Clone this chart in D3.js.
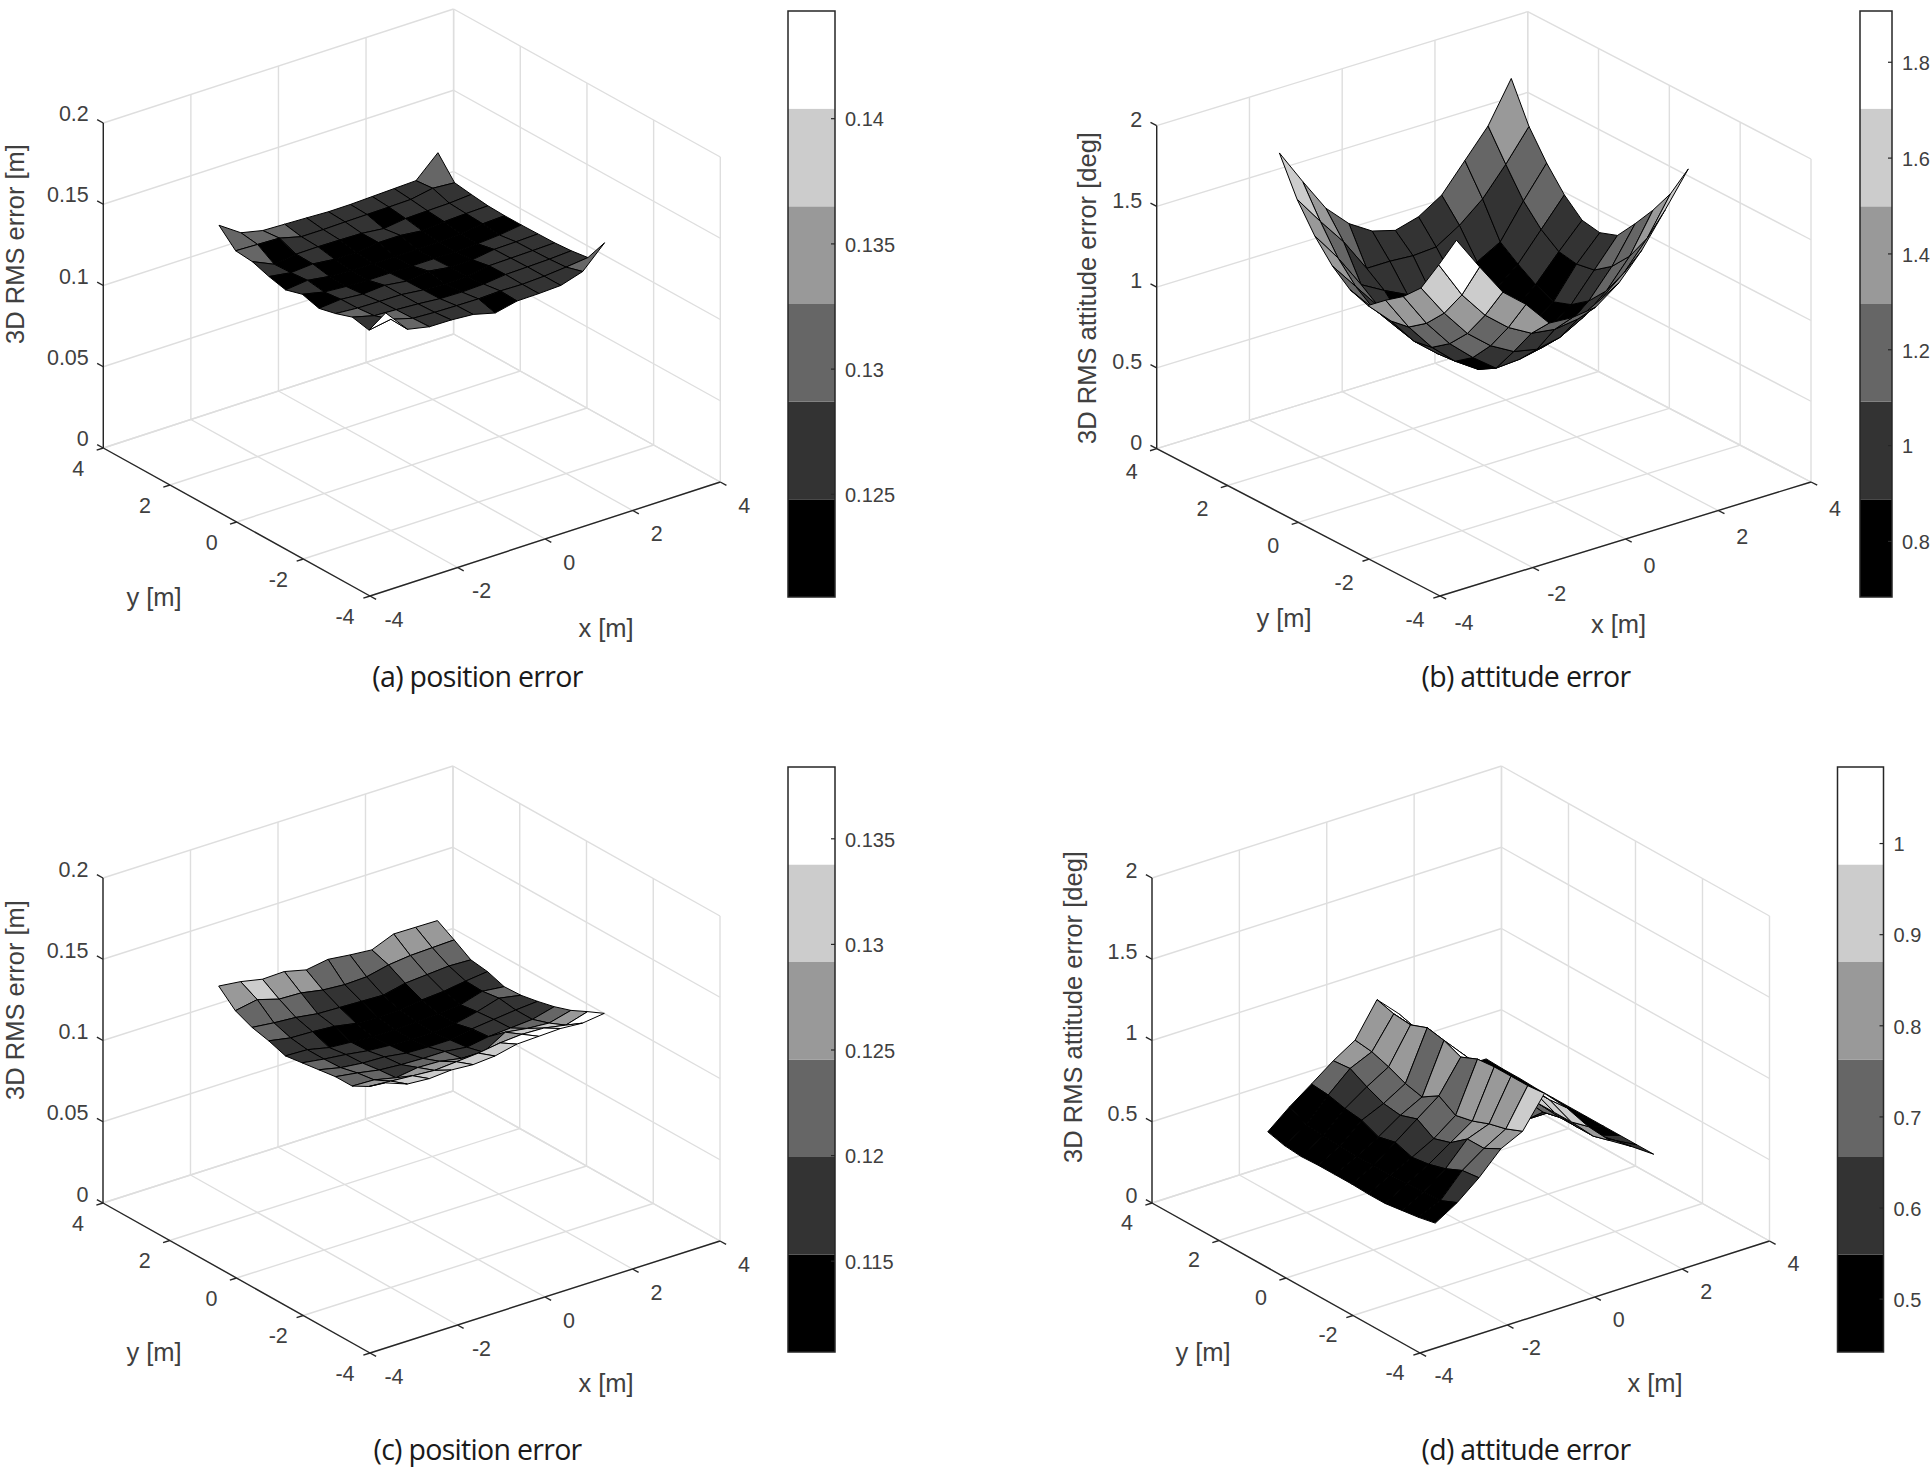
<!DOCTYPE html>
<html lang="en">
<head>
<meta charset="UTF-8">
<title>RMS error surfaces</title>
<script src="https://d3js.org/d3.v7.min.js"></script>
<style>
    html, body { margin: 0; padding: 0; background: #fff; }
    svg { display: block; }
    text { font-family: "Liberation Sans", Arial, sans-serif; fill: #404040; }
    .caption { font-family: "Open Sans", sans-serif; fill: #1a1a1a; font-size: 28.5px; text-anchor: middle; }
</style>
</head>
<body>
<svg id="fig" width="1930" height="1478"></svg>
<script>
// grid of the surfaces, both directions
const gridX = [-2.5, -2, -1.5, -1, -0.5, 0, 0.5, 1, 1.5, 2, 2.5]
const gridY = [-2.5, -2, -1.5, -1, -0.5, 0, 0.5, 1, 1.5, 2, 2.5]

const floorTicks = [-4, -2, 0, 2, 4]
const posZTicks = [0, 0.05, 0.1, 0.15, 0.2]
const attZTicks = [0, 0.5, 1, 1.5, 2]

// rows go with gridY, columns with gridX
const zA = [
    [.1440, .1295, .1267, .1265, .1255, .1220, .1250, .1252, .1258, .1300, .1433],
    [.1277, .1300, .1262, .1255, .1252, .1250, .1255, .1252, .1258, .1270, .1285],
    [.1300, .1265, .1258, .1250, .1238, .1235, .1240, .1255, .1258, .1262, .1270],
    [.1265, .1255, .1252, .1250, .1235, .1230, .1228, .1252, .1255, .1258, .1262],
    [.1240, .1252, .1240, .1250, .1232, .1250, .1230, .1232, .1252, .1255, .1260],
    [.1270, .1240, .1230, .1225, .1225, .1225, .1225, .1225, .1230, .1240, .1258],
    [.1240, .1255, .1235, .1228, .1225, .1225, .1225, .1228, .1235, .1252, .1258],
    [.1265, .1245, .1255, .1240, .1238, .1255, .1255, .1240, .1252, .1258, .1262],
    [.1300, .1240, .1258, .1260, .1258, .1255, .1240, .1258, .1262, .1265, .1275],
    [.1310, .1305, .1300, .1265, .1265, .1268, .1270, .1272, .1275, .1300, .1290],
    [.1410, .1320, .1290, .1285, .1280, .1274, .1275, .1280, .1285, .1290, .1418]
]
const zB = [
    [1.90, 1.69, 1.49, 1.37, 1.21, 1.20, 1.22, 1.325, 1.486, 1.69, 1.90],
    [1.69, 1.46, 1.29, 1.17, 1.09, 1.07, 1.09, 1.17, 1.29, 1.46, 1.69],
    [1.49, 1.29, 1.12, 1.00, 0.92, 0.89, 0.92, 1.00, 1.12, 1.29, 1.53],
    [1.38, 1.17, 1.00, 0.87, 0.76, 0.77, 0.80, 0.88, 1.00, 1.17, 1.39],
    [1.30, 1.09, 0.92, 0.79, 0.695, 0.70, 0.72, 0.81, 0.92, 1.09, 1.26],
    [1.21, 1.07, 0.90, 0.78, 0.70, 0.69, 0.71, 0.78, 0.88, 1.07, 1.22],
    [1.25, 1.09, 0.93, 0.81, 0.73, 0.71, 0.73, 0.81, 0.93, 1.09, 1.24],
    [1.34, 1.17, 1.00, 0.88, 0.81, 0.78, 0.81, 0.88, 1.00, 1.17, 1.34],
    [1.47, 1.29, 1.08, 1.00, 0.93, 0.90, 0.93, 1.00, 1.08, 1.29, 1.48],
    [1.64, 1.46, 1.29, 1.08, 1.08, 1.07, 1.08, 1.17, 1.29, 1.46, 1.65],
    [1.87, 1.65, 1.44, 1.30, 1.21, 1.17, 1.21, 1.30, 1.47, 1.64, 1.89]
]
const zC = [
    [.1360, .1310, .1300, .1310, .1300, .1310, .1340, .1345, .1350, .1340, .1357],
    [.1280, .1270, .1260, .1250, .1260, .1270, .1290, .1300, .1295, .1270, .1310],
    [.1225, .1220, .1190, .1210, .1205, .1180, .1175, .1255, .1235, .1225, .1260],
    [.1225, .1205, .1180, .1170, .1165, .1165, .1148, .1170, .1180, .1190, .1225],
    [.1210, .1180, .1165, .1160, .1140, .1135, .1135, .1160, .1175, .1190, .1200],
    [.1195, .1175, .1160, .1140, .1130, .1125, .1125, .1135, .1165, .1205, .1180],
    [.1180, .1175, .1145, .1135, .1125, .1125, .1130, .1140, .1150, .1190, .1175],
    [.1215, .1190, .1185, .1175, .1150, .1145, .1148, .1165, .1175, .1195, .1210],
    [.1240, .1225, .1215, .1195, .1190, .1185, .1180, .1210, .1220, .1230, .1225],
    [.1285, .1310, .1270, .1265, .1240, .1230, .1235, .1265, .1280, .1285, .1290],
    [.1379, .1363, .1335, .1339, .1306, .1328, .1312, .1300, .1355, .1353, .1351]
]
const zD = [
    [.497, .580, .690, .825, .890, 1.08, .950, .790, .660, .580, .490],
    [.475, .535, .677, .770, .847, 1.07, .940, .760, .630, .560, .490],
    [.460, .530, .630, .770, .820, 1.07, .940, .760, .630, .535, .490],
    [.445, .525, .600, .690, .780, 1.07, .930, .760, .630, .530, .490],
    [.445, .520, .585, .657, .757, 1.06, .920, .740, .605, .520, .490],
    [.450, .520, .620, .720, .820, 1.015, .900, .740, .500, .500, .490],
    [.450, .520, .595, .685, .755, 1.06, .920, .740, .500, .500, .490],
    [.450, .525, .640, .700, .780, 1.08, .930, .740, .500, .500, .490],
    [.445, .530, .654, .745, .825, 1.04, .910, .740, .500, .500, .495],
    [.455, .540, .680, .800, .860, 1.05, .920, .740, .500, .500, .495],
    [.482, .593, .690, .790, .874, 1.08, .950, .760, .520, .500, .500]
]

const greys = ['#000000', '#333333', '#666666', '#999999', '#cccccc', '#ffffff']

const climA = [0.1209, 0.1443]
const climB = [0.684, 1.907]
const climC = [0.1107, 0.1384]
const climD = [0.442, 1.084]

const barTicksA = [0.125, 0.13, 0.135, 0.14]
const barTicksB = [0.8, 1, 1.2, 1.4, 1.6, 1.8]
const barTicksC = [0.115, 0.12, 0.125, 0.13, 0.135]
const barTicksD = [0.5, 0.6, 0.7, 0.8, 0.9, 1]

// where each panel sits on the page
const panels = [
    {
        z: zA, clim: climA, zTicks: posZTicks, zMax: 0.2, barTicks: barTicksA,
        F: [370, 596], L: [103.3, 448], R: [720.3, 482], h: 325,
        bar: [788, 835, 11, 597], tickDy: 2, zTickDy: -7.5,
        zLabel: '3D RMS error [m]', zLabelPos: [17, 244],
        yTitle: [154, 599], xTitle: [606, 630],
        caption: '(a) position error', capPos: [477.5, 687]
    },
    {
        z: zB, clim: climB, zTicks: attZTicks, zMax: 2, barTicks: barTicksB,
        F: [1440, 596], L: [1156.7, 448.7], R: [1811, 482], h: 323,
        bar: [1860, 1892, 11, 597], tickDy: 5, zTickDy: -4.5,
        zLabel: '3D RMS attitude error [deg]', zLabelPos: [1089, 288],
        yTitle: [1284, 620], xTitle: [1618.5, 626],
        caption: '(b) attitude error', capPos: [1526, 687]
    },
    {
        z: zC, clim: climC, zTicks: posZTicks, zMax: 0.2, barTicks: barTicksC,
        F: [370, 1353], L: [103, 1203], R: [720, 1241], h: 325,
        bar: [788, 835, 767, 1352], tickDy: 2, zTickDy: -7,
        zLabel: '3D RMS error [m]', zLabelPos: [17, 1000],
        yTitle: [154, 1354], xTitle: [606, 1385],
        caption: '(c) position error', capPos: [477.5, 1460]
    },
    {
        z: zD, clim: climD, zTicks: attZTicks, zMax: 2, barTicks: barTicksD,
        F: [1420, 1353], L: [1152, 1203], R: [1769.5, 1241], h: 325,
        bar: [1837.5, 1883.5, 767, 1352], tickDy: 1, zTickDy: -6,
        zLabel: '3D RMS attitude error [deg]', zLabelPos: [1075, 1007],
        yTitle: [1203, 1354], xTitle: [1655, 1385],
        caption: '(d) attitude error', capPos: [1526, 1460]
    }
]

const svg = d3.select('#fig')
const outline = d3.line().curve(d3.curveLinearClosed)
const segment = d3.line()

function drawPanel(p) {
    let g = svg.append('g')
    let u = d3.scaleLinear().domain([-4, 4]).range([0, 1])
    let w = d3.scaleLinear().domain([0, p.zMax]).range([0, 1])

    let rx = [p.R[0] - p.F[0], p.R[1] - p.F[1]]
    let ry = [p.L[0] - p.F[0], p.L[1] - p.F[1]]

    function project(x, y, z) {
        return [
            p.F[0] + u(x) * rx[0] + u(y) * ry[0],
            p.F[1] + u(x) * rx[1] + u(y) * ry[1] - w(z) * p.h
        ]
    }

    // line of sight, used to sort the patches back to front
    let right = [rx[0], ry[0], 0]
    let up = [-rx[1], -ry[1], p.h]
    let sight = [
        right[1] * up[2] - right[2] * up[1],
        right[2] * up[0] - right[0] * up[2],
        right[0] * up[1] - right[1] * up[0]
    ]
    let depth = (x, y, z) => sight[0] * u(x) + sight[1] * u(y) + sight[2] * w(z)

    let gridLine = (a, b) => g.append('path')
        .attr('d', segment([a, b]))
        .attr('fill', 'none')
        .attr('stroke', '#dedede')
        .attr('stroke-width', 1.4)

    floorTicks.forEach(t => {
        gridLine(project(t, -4, 0), project(t, 4, 0))
        gridLine(project(-4, t, 0), project(4, t, 0))
        gridLine(project(t, 4, 0), project(t, 4, p.zMax))
        gridLine(project(4, t, 0), project(4, t, p.zMax))
    })
    p.zTicks.forEach(t => {
        gridLine(project(-4, 4, t), project(4, 4, t))
        gridLine(project(4, 4, t), project(4, -4, t))
    })

    let axisLine = (a, b, width) => g.append('path')
        .attr('d', segment([a, b]))
        .attr('fill', 'none')
        .attr('stroke', '#262626')
        .attr('stroke-width', width || 1.4)

    axisLine(project(-4, -4, 0), project(4, -4, 0))
    axisLine(project(-4, -4, 0), project(-4, 4, 0))
    axisLine(project(-4, 4, 0), project(-4, 4, p.zMax))

    let xLen = Math.hypot(rx[0], rx[1]), yLen = Math.hypot(ry[0], ry[1])
    let tick = 7
    floorTicks.forEach(t => {
        let a = project(t, -4, 0)
        axisLine(a, [a[0] - ry[0] / yLen * tick, a[1] - ry[1] / yLen * tick])
        let b = project(-4, t, 0)
        axisLine(b, [b[0] - rx[0] / xLen * tick, b[1] - rx[1] / xLen * tick])
        g.append('text').attr('class', 'tick')
            .attr('x', a[0] + 24).attr('y', a[1] + 23 + p.tickDy)
            .attr('text-anchor', 'middle').attr('dominant-baseline', 'middle')
            .attr('font-size', 21.5).text(t)
        g.append('text').attr('class', 'tick')
            .attr('x', b[0] - 25).attr('y', b[1] + 20 + p.tickDy)
            .attr('text-anchor', 'middle').attr('dominant-baseline', 'middle')
            .attr('font-size', 21.5).text(t)
    })
    p.zTicks.forEach(t => {
        let a = project(-4, 4, t)
        axisLine(a, [a[0] + ry[0] / yLen * tick, a[1] + ry[1] / yLen * tick])
        g.append('text').attr('class', 'tick')
            .attr('x', a[0] - 14.5).attr('y', a[1] + p.zTickDy)
            .attr('text-anchor', 'end').attr('dominant-baseline', 'middle')
            .attr('font-size', 21.5).text(t)
    })

    g.append('text')
        .attr('transform', `translate(${p.zLabelPos[0]},${p.zLabelPos[1]}) rotate(-90)`)
        .attr('text-anchor', 'middle').attr('dominant-baseline', 'middle')
        .attr('font-size', 25.5).text(p.zLabel)
    g.append('text').attr('x', p.yTitle[0]).attr('y', p.yTitle[1])
        .attr('text-anchor', 'middle').attr('dominant-baseline', 'middle')
        .attr('font-size', 25.5).text('y [m]')
    g.append('text').attr('x', p.xTitle[0]).attr('y', p.xTitle[1])
        .attr('text-anchor', 'middle').attr('dominant-baseline', 'middle')
        .attr('font-size', 25.5).text('x [m]')

    // surface patches: flat colour taken from the low corner of each cell
    let colour = d3.scaleQuantize().domain(p.clim).range(greys)
    let cells = []
    for (let j = 0; j < gridY.length - 1; j++) {
        for (let i = 0; i < gridX.length - 1; i++) {
            let corners = [[i, j], [i + 1, j], [i + 1, j + 1], [i, j + 1]]
            let pts = corners.map(c => [gridX[c[0]], gridY[c[1]], p.z[c[1]][c[0]]])
            cells.push({
                path: pts.map(q => project(q[0], q[1], q[2])),
                value: p.z[j][i],
                depth: d3.mean(pts, q => depth(q[0], q[1], q[2]))
            })
        }
    }
    cells.sort((a, b) => d3.ascending(a.depth, b.depth))

    g.append('g').selectAll('path')
        .data(cells)
        .enter()
        .append('path')
        .attr('d', d => outline(d.path))
        .attr('fill', d => colour(d.value))
        .attr('stroke', '#000')
        .attr('stroke-width', 1)
        .attr('stroke-linejoin', 'round')

    // colorbar
    let [bx0, bx1, by0, by1] = p.bar
    let barScale = d3.scaleLinear().domain(p.clim).range([by1, by0])
    let band = (p.clim[1] - p.clim[0]) / greys.length
    g.append('g').selectAll('rect')
        .data(greys)
        .enter()
        .append('rect')
        .attr('x', bx0)
        .attr('width', bx1 - bx0)
        .attr('y', (d, i) => barScale(p.clim[0] + band * (i + 1)))
        .attr('height', (d, i) => barScale(p.clim[0] + band * i) - barScale(p.clim[0] + band * (i + 1)))
        .attr('fill', d => d)
    g.append('rect')
        .attr('x', bx0).attr('y', by0)
        .attr('width', bx1 - bx0).attr('height', by1 - by0)
        .attr('fill', 'none').attr('stroke', '#262626').attr('stroke-width', 1.5)
    p.barTicks.forEach(t => {
        let y = barScale(t)
        axisLine([bx1 - 4, y], [bx1, y], 1.2)
        g.append('text')
            .attr('x', bx1 + 10).attr('y', y + 2.5)
            .attr('dominant-baseline', 'middle')
            .attr('font-size', 20).text(t)
    })

    g.append('text').attr('class', 'caption')
        .attr('x', p.capPos[0]).attr('y', p.capPos[1])
        .attr('letter-spacing', -0.7)
        .text(p.caption)
}

panels.forEach(drawPanel)
</script>
</body>
</html>
